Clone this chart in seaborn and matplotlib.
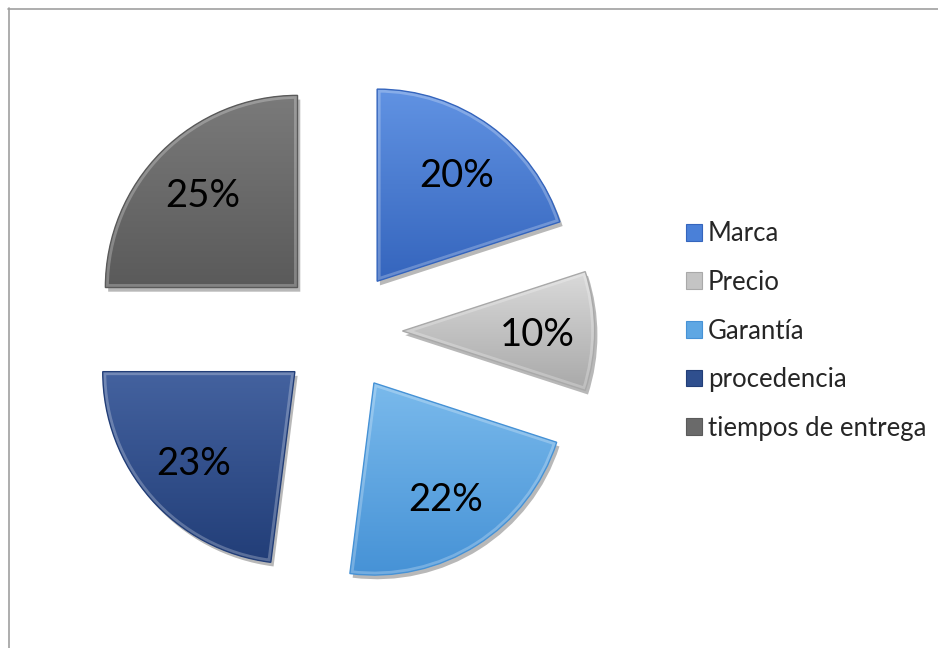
import numpy as np
import matplotlib
matplotlib.use("Agg")
import matplotlib.pyplot as plt
import matplotlib.patheffects as pe
from matplotlib.patches import Patch, PathPatch
from matplotlib.lines import Line2D
import seaborn as sns

# Survey data: factors considered when choosing a supplier
categories = ["Marca", "Precio", "Garantía", "procedencia", "tiempos de entrega"]
shares = [20, 10, 22, 23, 25]

# Base colours plus light/dark shades for the bevelled look
base_colors = ["#4A80D8", "#C4C4C4", "#5EA7E3", "#2F4F8E", "#6A6A6A"]
light_colors = ["#6193E3", "#DADADA", "#7ABAEC", "#44629F", "#7A7A7A"]
dark_colors = ["#3565BD", "#A9A9A9", "#4692D6", "#223E78", "#5A5A5A"]

sns.set_theme(style="white")
plt.rcParams["font.family"] = ["Lato", "DejaVu Sans"]

W, H = 938, 648
fig = plt.figure(figsize=(W / 100, H / 100), dpi=100)
fig.patch.set_facecolor("white")

# square axes centred on the pie centre
cx, cy, half = 341, 331, 269
ax = fig.add_axes([(cx - half) / W, (H - cy - half) / H, 2 * half / W, 2 * half / H])

wedges, texts, autotexts = ax.pie(
    shares,
    colors=base_colors,
    startangle=90,
    counterclock=False,
    explode=[0.32] * len(shares),
    radius=1.0,
    autopct=lambda p: f"{p:.0f}%",
    pctdistance=0.7,
    wedgeprops=dict(edgecolor="none", linewidth=0),
    textprops=dict(fontsize=27.5, color="black"),
    frame=False,
)
ax.set_xlim(-1.4, 1.4)
ax.set_ylim(-1.4, 1.4)
ax.set_aspect("equal")
ax.axis("off")

for w, lc, dc in zip(wedges, light_colors, dark_colors):
    w.set_zorder(1)
    w.set_path_effects([
        pe.SimplePatchShadow(offset=(2, -3), shadow_rgbFace="black", alpha=0.28),
        pe.Normal(),
    ])
    # vertical gradient clipped to the wedge
    bb = w.get_path().get_extents()
    top = np.array(matplotlib.colors.to_rgb(lc))
    bot = np.array(matplotlib.colors.to_rgb(dc))
    t = np.linspace(0, 1, 128)[:, None]
    grad = top[None, :] * (1 - t) + bot[None, :] * t
    img = np.repeat(grad[:, None, :], 2, axis=1)
    im = ax.imshow(img, extent=[bb.x0, bb.x1, bb.y0, bb.y1], origin="upper",
                   aspect="auto", zorder=2, interpolation="bilinear")
    im.set_clip_path(w)
    # inner bevel: light rim on the inside of the outline
    rim = PathPatch(w.get_path(), facecolor="none", edgecolor="white",
                    linewidth=5, alpha=0.25, zorder=2.5)
    ax.add_patch(rim)
    rim.set_clip_path(w)
    edge = PathPatch(w.get_path(), facecolor="none", edgecolor=dc,
                     linewidth=1.0, zorder=2.6)
    ax.add_patch(edge)

for t_ in autotexts:
    t_.set_zorder(5)
    t_.set_va("center_baseline")

ax.set_xlim(-1.4, 1.4)
ax.set_ylim(-1.4, 1.4)

# legend
handles = [Patch(facecolor=c, edgecolor=d, linewidth=0.8) for c, d in zip(base_colors, dark_colors)]
fig.legend(handles, categories, loc="center left",
           bbox_to_anchor=(686 / W, 1 - 331 / H), frameon=False,
           fontsize=18.5, handlelength=0.62, handleheight=0.62,
           handletextpad=0.23, labelspacing=0.92, borderpad=0, borderaxespad=0)

# chart-area border (top and left edges)
fig.add_artist(Line2D([8 / W, 1], [1 - 8.5 / H, 1 - 8.5 / H], color="#A0A0A0", lw=1.2))
fig.add_artist(Line2D([8.5 / W, 8.5 / W], [0, 1 - 8 / H], color="#A0A0A0", lw=1.2))

fig.savefig("out.png", dpi=100, facecolor="white")
